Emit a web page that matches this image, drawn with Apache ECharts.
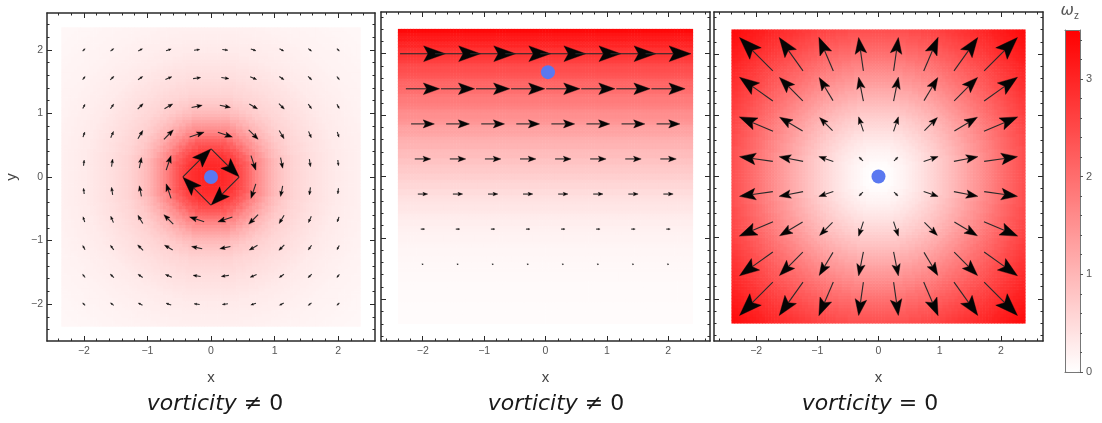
<!DOCTYPE html>
<html>
<head>
<meta charset="utf-8">
<script src="https://cdn.jsdelivr.net/npm/echarts@6/dist/echarts.min.js"></script>
<style>html,body{margin:0;padding:0;background:#fff}#c{width:1102px;height:423px}</style>
</head>
<body>
<div id="c"></div>
<script>
// ---------------- data ----------------
const majorTicks = [-2, -1, 0, 1, 2];
const barTicks = [0, 1, 2, 3];
const panelTitles = ['vorticity ≠ 0', 'vorticity ≠ 0', 'vorticity = 0'];

// panel 1 : vortex (clockwise), 10 x 10 arrows
const vortexCols = [-2, -1.556, -1.111, -0.667, -0.222, 0.222, 0.667, 1.111, 1.556, 2];
const vortexRows = [2, 1.556, 1.111, 0.667, 0.222, -0.222, -0.667, -1.111, -1.556, -2];
const vortexU = [
  [0.039, 0.051, 0.066, 0.081, 0.089, 0.089, 0.081, 0.066, 0.051, 0.039],
  [0.040, 0.057, 0.073, 0.101, 0.119, 0.119, 0.101, 0.073, 0.057, 0.040],
  [0.036, 0.052, 0.085, 0.129, 0.167, 0.167, 0.129, 0.085, 0.052, 0.036],
  [0.027, 0.043, 0.077, 0.148, 0.228, 0.228, 0.148, 0.077, 0.043, 0.027],
  [0.010, 0.017, 0.033, 0.076, 0.440, 0.440, 0.076, 0.033, 0.017, 0.010],
  [-0.010, -0.017, -0.033, -0.076, -0.440, -0.440, -0.076, -0.033, -0.017, -0.010],
  [-0.027, -0.043, -0.077, -0.148, -0.228, -0.228, -0.148, -0.077, -0.043, -0.027],
  [-0.036, -0.052, -0.085, -0.129, -0.167, -0.167, -0.129, -0.085, -0.052, -0.036],
  [-0.040, -0.057, -0.073, -0.101, -0.119, -0.119, -0.101, -0.073, -0.057, -0.040],
  [-0.039, -0.051, -0.066, -0.081, -0.089, -0.089, -0.081, -0.066, -0.051, -0.039]
];
const vortexV = [
  [0.039, 0.040, 0.036, 0.027, 0.010, -0.010, -0.027, -0.036, -0.040, -0.039],
  [0.051, 0.057, 0.052, 0.043, 0.017, -0.017, -0.043, -0.052, -0.057, -0.051],
  [0.066, 0.073, 0.085, 0.077, 0.033, -0.033, -0.077, -0.085, -0.073, -0.066],
  [0.081, 0.101, 0.129, 0.148, 0.076, -0.076, -0.148, -0.129, -0.101, -0.081],
  [0.089, 0.119, 0.167, 0.228, 0.440, -0.440, -0.228, -0.167, -0.119, -0.089],
  [0.089, 0.119, 0.167, 0.228, 0.440, -0.440, -0.228, -0.167, -0.119, -0.089],
  [0.081, 0.101, 0.129, 0.148, 0.076, -0.076, -0.148, -0.129, -0.101, -0.081],
  [0.066, 0.073, 0.085, 0.077, 0.033, -0.033, -0.077, -0.085, -0.073, -0.066],
  [0.051, 0.057, 0.052, 0.043, 0.017, -0.017, -0.043, -0.052, -0.057, -0.051],
  [0.039, 0.040, 0.036, 0.027, 0.010, -0.010, -0.027, -0.036, -0.040, -0.039]
];
// shading of panel 1 against radius r = 0, 0.05, ... 3.4
const vortexOmegaByRadius = [
  3.0, 3.0, 3.0, 2.98, 2.95, 2.9, 2.85, 2.78, 2.7, 2.58,
  2.45, 2.3, 2.15, 1.98, 1.8, 1.65, 1.5, 1.37, 1.25, 1.13,
  1.02, 0.93, 0.85, 0.78, 0.72, 0.67, 0.62, 0.58, 0.55, 0.52,
  0.49, 0.465, 0.44, 0.42, 0.40, 0.38, 0.36, 0.34, 0.32, 0.30,
  0.28, 0.27, 0.26, 0.25, 0.24, 0.23, 0.22, 0.21, 0.20, 0.19,
  0.185, 0.18, 0.17, 0.165, 0.16, 0.155, 0.15, 0.145, 0.14, 0.135,
  0.13, 0.125, 0.12, 0.115, 0.11, 0.108, 0.105, 0.102, 0.10];

// panel 2 : shear flow, 8 x 8 arrows, x-speed per row (rows from y = 2 down to y = -2)
const shearCols = [-2, -1.429, -0.857, -0.286, 0.286, 0.857, 1.429, 2];
const shearRows = [2, 1.429, 0.857, 0.286, -0.286, -0.857, -1.429, -2];
const shearRowU = [0.74, 0.55, 0.38, 0.26, 0.16, 0.065, 0.02, 0];
// shading of panel 2 against y = -2.4, -2.35, ... 2.4
const shearOmegaByY = [
  0.05, 0.05, 0.05, 0.05, 0.052, 0.055, 0.057, 0.06, 0.062, 0.065,
  0.067, 0.07, 0.072, 0.075, 0.078, 0.08, 0.085, 0.09, 0.095, 0.10,
  0.105, 0.11, 0.115, 0.12, 0.13, 0.14, 0.15, 0.16, 0.17, 0.18,
  0.195, 0.21, 0.225, 0.24, 0.26, 0.28, 0.30, 0.32, 0.345, 0.37,
  0.395, 0.42, 0.45, 0.48, 0.515, 0.55, 0.585, 0.62, 0.655, 0.69,
  0.725, 0.76, 0.795, 0.83, 0.865, 0.90, 0.94, 0.98, 1.025, 1.07,
  1.115, 1.16, 1.21, 1.26, 1.315, 1.37, 1.425, 1.48, 1.535, 1.59,
  1.645, 1.70, 1.755, 1.81, 1.87, 1.93, 1.985, 2.04, 2.105, 2.17,
  2.235, 2.30, 2.365, 2.43, 2.495, 2.56, 2.63, 2.70, 2.77, 2.84,
  2.915, 2.99, 3.065, 3.14, 3.22, 3.30, 3.38];

// panel 3 : source flow, 8 x 8 arrows
const sourceCols = [-2, -1.429, -0.857, -0.286, 0.286, 0.857, 1.429, 2];
const sourceRows = [2, 1.429, 0.857, 0.286, -0.286, -0.857, -1.429, -2];
const sourceU = [
  [-0.544, -0.389, -0.236, -0.078, 0.078, 0.236, 0.389, 0.544],
  [-0.545, -0.382, -0.226, -0.078, 0.078, 0.226, 0.382, 0.545],
  [-0.551, -0.377, -0.212, -0.079, 0.079, 0.212, 0.377, 0.551],
  [-0.545, -0.392, -0.237, -0.064, 0.064, 0.237, 0.392, 0.545],
  [-0.545, -0.392, -0.237, -0.064, 0.064, 0.237, 0.392, 0.545],
  [-0.551, -0.377, -0.212, -0.079, 0.079, 0.212, 0.377, 0.551],
  [-0.545, -0.382, -0.226, -0.078, 0.078, 0.226, 0.382, 0.545],
  [-0.544, -0.389, -0.236, -0.078, 0.078, 0.236, 0.389, 0.544]
];
const sourceV = [
  [0.544, 0.545, 0.551, 0.545, 0.545, 0.551, 0.545, 0.544],
  [0.389, 0.382, 0.377, 0.392, 0.392, 0.377, 0.382, 0.389],
  [0.236, 0.226, 0.212, 0.237, 0.237, 0.212, 0.226, 0.236],
  [0.078, 0.078, 0.079, 0.064, 0.064, 0.079, 0.078, 0.078],
  [-0.078, -0.078, -0.079, -0.064, -0.064, -0.079, -0.078, -0.078],
  [-0.236, -0.226, -0.212, -0.237, -0.237, -0.212, -0.226, -0.236],
  [-0.389, -0.382, -0.377, -0.392, -0.392, -0.377, -0.382, -0.389],
  [-0.544, -0.545, -0.551, -0.545, -0.545, -0.551, -0.545, -0.544]
];
// shading of panel 3 against radius r = 0, 0.05, ... 3.4
const sourceOmegaByRadius = [
  0, 0, 0.01, 0.02, 0.04, 0.06, 0.09, 0.12, 0.15, 0.18,
  0.22, 0.26, 0.30, 0.34, 0.39, 0.43, 0.48, 0.53, 0.58, 0.63,
  0.68, 0.73, 0.79, 0.84, 0.90, 0.96, 1.02, 1.08, 1.14, 1.20,
  1.27, 1.33, 1.40, 1.46, 1.53, 1.59, 1.66, 1.72, 1.79, 1.85,
  1.92, 1.98, 2.04, 2.10, 2.16, 2.22, 2.28, 2.34, 2.40, 2.45,
  2.51, 2.56, 2.62, 2.67, 2.73, 2.78, 2.83, 2.88, 2.93, 2.98,
  3.03, 3.07, 3.12, 3.16, 3.21, 3.25, 3.30, 3.34, 3.38];

// blue particle in each panel
const particles = [[0, 0], [0.04, 1.70], [0, 0]];
const omegaMin = 0, omegaMax = 3.5;

// ---------------- layout / styles ----------------
const FONT = '"Liberation Sans", Arial, sans-serif';
const FRAME = '#2a2a2a';
const panels = [
  { left: 47, top: 13, size: 328, range: 2.58, cellHalfSpan: 2.325, titleX: 215 },
  { left: 381, top: 12, size: 329, range: 2.68, cellHalfSpan: 2.375, titleX: 556 },
  { left: 714, top: 12, size: 329, range: 2.69, cellHalfSpan: 2.375, titleX: 870 }
];
const CELL = 0.05;     // heat cell size (data units)
const STEP = 0.05;     // spacing of the shading profiles
const fmt = v => (v < 0 ? '\u2212' + (-v) : String(v));

function minorTicksFor(R) {
  const out = [];
  for (let k = -20; k <= 20; k++) {
    const v = Math.round(k * 2) / 10;
    if (Math.abs(v) < R - 0.01 && Math.abs(v - Math.round(v)) > 1e-6) out.push(v);
  }
  return out;
}

// ---------------- tables for the series ----------------
function cellCenters(half) {
  const c = [];
  const n = Math.round(2 * half / CELL) + 1;
  for (let i = 0; i < n; i++) c.push(Math.round((-half + i * CELL) * 1000) / 1000);
  return c;
}
function radialCells(profile, half) {
  const cs = cellCenters(half), out = [];
  for (const y of cs) for (const x of cs) {
    const idx = Math.min(profile.length - 1, Math.round(Math.hypot(x, y) / STEP));
    out.push([x, y, profile[idx]]);
  }
  return out;
}
function rowCells(profileByY, half) {
  const cs = cellCenters(half), out = [];
  for (const y of cs) {
    const idx = Math.max(0, Math.min(profileByY.length - 1, Math.round((y + 2.4) / STEP)));
    for (const x of cs) out.push([x, y, profileByY[idx]]);
  }
  return out;
}
function vecTable(cols, rows, U, V) {
  const out = [];
  rows.forEach((y, j) => cols.forEach((x, i) => out.push([x, y, U[j][i], V[j][i]])));
  return out;
}
const shearU = shearRows.map((y, j) => shearCols.map(() => shearRowU[j]));
const shearV = shearRows.map(() => shearCols.map(() => 0));

const heatData = [
  radialCells(vortexOmegaByRadius, panels[0].cellHalfSpan),
  rowCells(shearOmegaByY, panels[1].cellHalfSpan),
  radialCells(sourceOmegaByRadius, panels[2].cellHalfSpan)
];
const vecData = [
  vecTable(vortexCols, vortexRows, vortexU, vortexV),
  vecTable(shearCols, shearRows, shearU, shearV),
  vecTable(sourceCols, sourceRows, sourceU, sourceV)
];

// ---------------- render helpers ----------------
function heatItem(params, api) {
  const c = api.coord([api.value(0), api.value(1)]);
  const s = api.size([CELL, CELL]);
  return {
    type: 'rect',
    shape: { x: c[0] - s[0] / 2 - 0.3, y: c[1] - s[1] / 2 - 0.3, width: s[0] + 0.6, height: s[1] + 0.6 },
    style: { fill: api.visual('color') }
  };
}
function arrowItem(params, api) {
  const x = api.value(0), y = api.value(1), u = api.value(2), v = api.value(3);
  const a = api.coord([x - u / 2, y - v / 2]);
  const b = api.coord([x + u / 2, y + v / 2]);
  const dx = b[0] - a[0], dy = b[1] - a[1];
  const L = Math.hypot(dx, dy);
  if (L < 0.6) return { type: 'group', children: [] };
  const ex = dx / L, ey = dy / L, nx = -ey, ny = ex;
  const h = Math.max(L * 0.48, 1.4), w = h * 0.36;
  const bx = b[0] - ex * h, by = b[1] - ey * h;
  const mx = b[0] - ex * h * 0.8, my = b[1] - ey * h * 0.8;
  return {
    type: 'group',
    children: [
      { type: 'line', shape: { x1: a[0], y1: a[1], x2: mx, y2: my }, style: { stroke: '#2a2a2a', lineWidth: 1.1 } },
      { type: 'polygon', shape: { points: [[b[0], b[1]], [bx + nx * w, by + ny * w], [mx, my], [bx - nx * w, by - ny * w]] },
        style: { fill: '#050505', stroke: '#050505', lineWidth: 0.4 } }
    ]
  };
}

// ---------------- axes ----------------
const xAxes = [], yAxes = [], grids = [];
panels.forEach((p, g) => {
  grids.push({ left: p.left, top: p.top, width: p.size, height: p.size, show: false });
  const R = p.range, minors = minorTicksFor(R);
  const base = { type: 'value', gridIndex: g, min: -R, max: R, splitLine: { show: false } };
  const lineOn = { show: true, onZero: false, lineStyle: { color: FRAME, width: 1.5 } };
  const lineOff = { show: false, onZero: false };
  const majT = { show: true, inside: true, length: 5, customValues: majorTicks, lineStyle: { color: FRAME, width: 1 } };
  const minT = { show: true, inside: true, length: 2.5, customValues: minors, lineStyle: { color: FRAME, width: 1 } };
  const lab = { show: true, customValues: majorTicks, formatter: fmt, fontSize: 10.5, color: '#555', fontFamily: FONT };
  xAxes.push(
    Object.assign({}, base, { position: 'bottom', axisLine: lineOn, axisTick: majT,
      axisLabel: Object.assign({}, lab, { margin: 5 }),
      name: 'x', nameLocation: 'middle', nameGap: 29,
      nameTextStyle: { fontSize: 15, color: '#444', fontFamily: FONT } }),
    Object.assign({}, base, { position: 'bottom', axisLine: lineOff, axisTick: minT, axisLabel: { show: false } }),
    Object.assign({}, base, { position: 'top', axisLine: lineOn, axisTick: majT, axisLabel: { show: false } }),
    Object.assign({}, base, { position: 'top', axisLine: lineOff, axisTick: minT, axisLabel: { show: false } })
  );
  yAxes.push(
    Object.assign({}, base, { position: 'left', axisLine: lineOn, axisTick: majT,
      axisLabel: g === 0 ? Object.assign({}, lab, { margin: 4 }) : { show: false },
      name: g === 0 ? 'y' : '', nameLocation: 'middle', nameGap: 28, nameRotate: 90,
      nameTextStyle: { fontSize: 15, color: '#444', fontFamily: FONT } }),
    Object.assign({}, base, { position: 'left', axisLine: lineOff, axisTick: minT, axisLabel: { show: false } }),
    Object.assign({}, base, { position: 'right', axisLine: lineOn, axisTick: majT, axisLabel: { show: false } }),
    Object.assign({}, base, { position: 'right', axisLine: lineOff, axisTick: minT, axisLabel: { show: false } })
  );
});
// colour bar frame + ticks
const BAR = { left: 1065, top: 30, width: 15, height: 342 };
grids.push({ left: BAR.left, top: BAR.top, width: BAR.width, height: BAR.height, show: false });
const barLine = { show: true, onZero: false, lineStyle: { color: '#777', width: 1 } };
const barMinor = [];
for (let k = 1; k <= 17; k++) { if (k % 5 !== 0) barMinor.push(k / 5); }
xAxes.push(
  { type: 'value', gridIndex: 3, min: 0, max: 1, position: 'bottom', z: 10, axisLine: barLine, axisTick: { show: false }, axisLabel: { show: false }, splitLine: { show: false } },
  { type: 'value', gridIndex: 3, min: 0, max: 1, position: 'top', z: 10, axisLine: barLine, axisTick: { show: false }, axisLabel: { show: false }, splitLine: { show: false } }
);
yAxes.push(
  { type: 'value', gridIndex: 3, min: omegaMin, max: omegaMax, position: 'right', z: 10, axisLine: barLine,
    axisTick: { show: true, inside: false, length: 3, customValues: barTicks, lineStyle: { color: '#555' } },
    axisLabel: { show: true, customValues: barTicks, fontSize: 11, color: '#555', margin: 6, fontFamily: FONT },
    splitLine: { show: false } },
  { type: 'value', gridIndex: 3, min: omegaMin, max: omegaMax, position: 'right', z: 10, axisLine: { show: false, onZero: false },
    axisTick: { show: true, inside: false, length: 2, customValues: barMinor, lineStyle: { color: '#555' } },
    axisLabel: { show: false }, splitLine: { show: false } },
  { type: 'value', gridIndex: 3, min: omegaMin, max: omegaMax, position: 'left', z: 10, axisLine: barLine,
    axisTick: { show: false }, axisLabel: { show: false }, splitLine: { show: false } }
);

// ---------------- series ----------------
const series = [];
panels.forEach((p, g) => {
  series.push({ type: 'custom', name: 'omega' + g, xAxisIndex: 4 * g, yAxisIndex: 4 * g, silent: true,
    progressive: 0, dimensions: ['x', 'y', 'w'], encode: { x: 0, y: 1 }, renderItem: heatItem, data: heatData[g], z: 1 });
});
panels.forEach((p, g) => {
  series.push({ type: 'custom', name: 'flow' + g, xAxisIndex: 4 * g, yAxisIndex: 4 * g, silent: true,
    dimensions: ['x', 'y', 'u', 'v'], encode: { x: 0, y: 1 }, renderItem: arrowItem, data: vecData[g], z: 3 });
});
panels.forEach((p, g) => {
  series.push({ type: 'scatter', xAxisIndex: 4 * g, yAxisIndex: 4 * g, silent: true, symbolSize: 14,
    itemStyle: { color: '#5a78f0', opacity: 1 }, data: [particles[g]], z: 5 });
});

// ---------------- text ----------------
const graphics = panels.map((p, g) => ({
  type: 'text', x: p.titleX, y: 404, z: 10,
  style: {
    text: panelTitles[g].replace('vorticity', '{i|vorticity}'),
    align: 'center', verticalAlign: 'middle',
    fontSize: 22, fontFamily: '"DejaVu Sans", sans-serif', fill: '#1a1a1a',
    rich: { i: { fontStyle: 'italic', fontSize: 22, fontFamily: '"DejaVu Sans", sans-serif', fill: '#1a1a1a' } }
  }
}));
graphics.push(
  { type: 'text', x: 1074, y: 11, z: 10, style: { text: 'ω', align: 'right', verticalAlign: 'middle',
    fontSize: 16, fontStyle: 'italic', fontFamily: '"DejaVu Sans", sans-serif', fill: '#555' } },
  { type: 'text', x: 1074, y: 16, z: 10, style: { text: 'z', align: 'left', verticalAlign: 'middle',
    fontSize: 10, fontFamily: FONT, fill: '#555' } }
);

const chart = echarts.init(document.getElementById('c'), null, { renderer: 'canvas' });
chart.setOption({
  animation: false,
  backgroundColor: '#ffffff',
  grid: grids,
  xAxis: xAxes,
  yAxis: yAxes,
  visualMap: {
    type: 'continuous', min: omegaMin, max: omegaMax, dimension: 2, seriesIndex: [0, 1, 2],
    left: BAR.left, top: BAR.top, itemWidth: BAR.width, itemHeight: BAR.height, padding: 0,
    calculable: false, hoverLink: false, show: true, text: null, showLabel: false,
    inRange: { color: ['#ffffff', '#ff0000'] }
  },
  series: series,
  graphic: graphics
});
</script>
</body>
</html>
